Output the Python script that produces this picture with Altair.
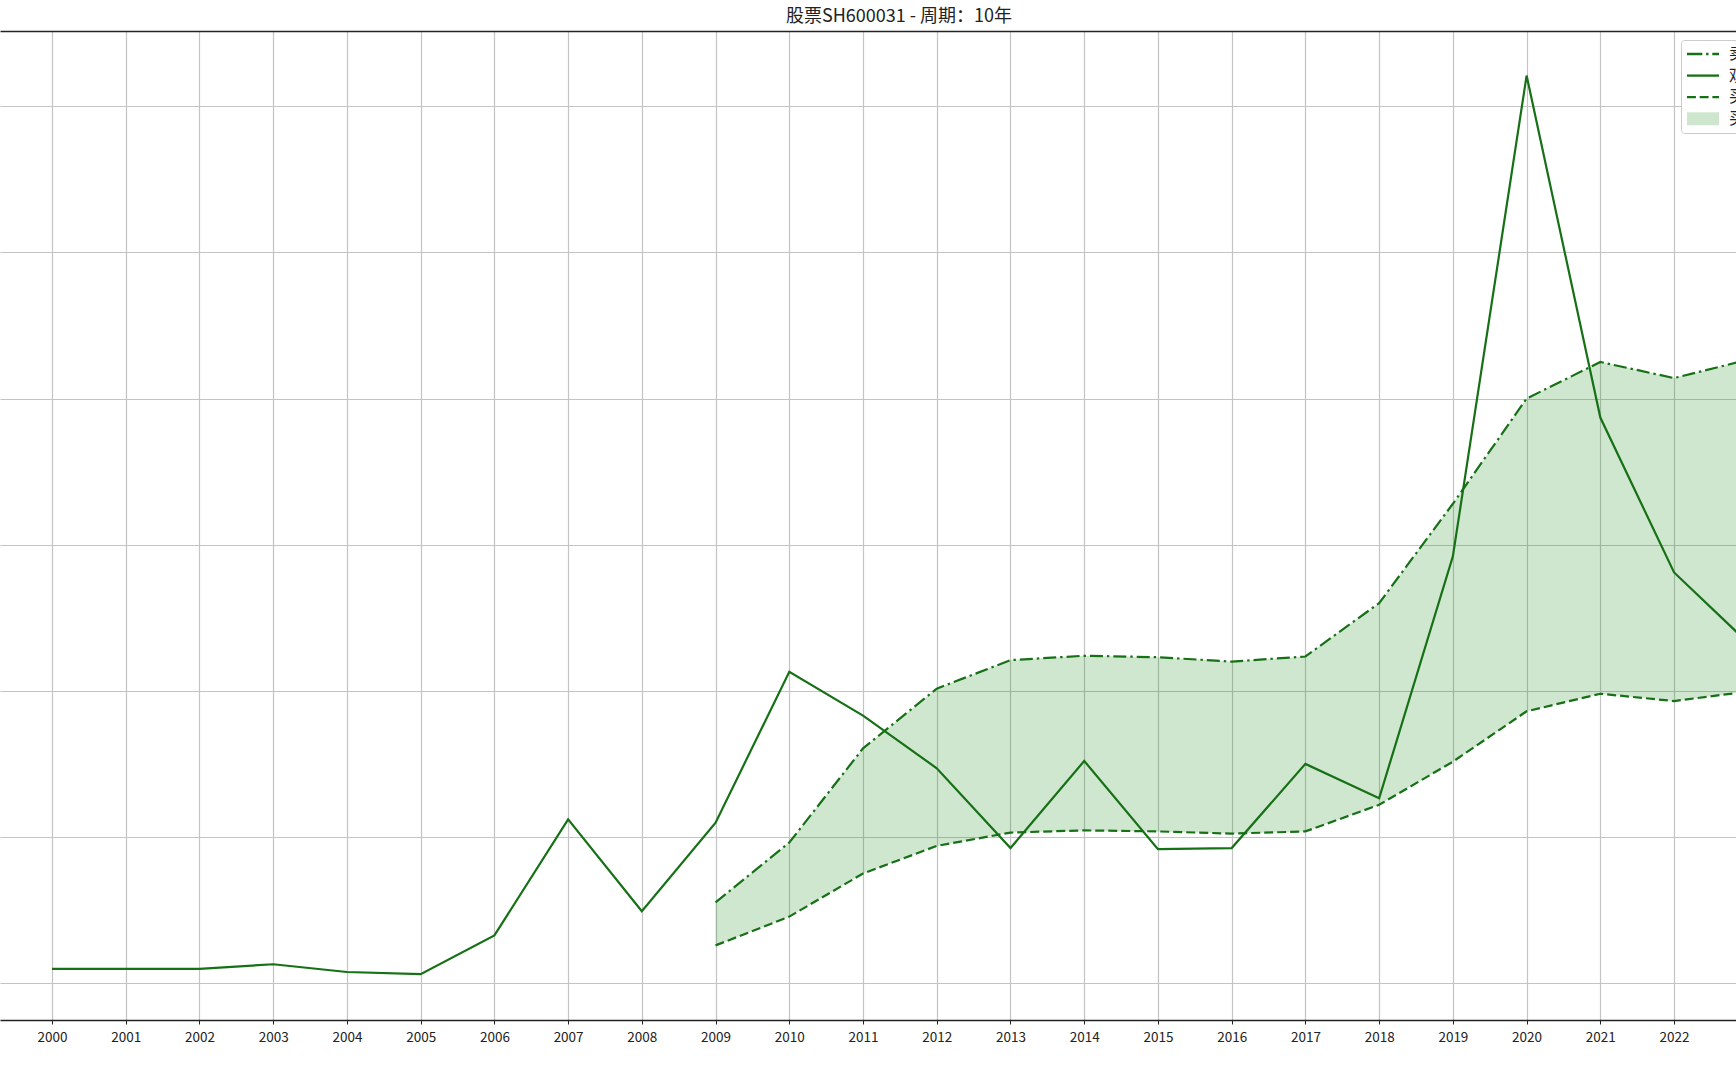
import altair as alt
import pandas as pd

# ---------------- data ----------------
years = list(range(2000, 2024))
actual = [0.98, 0.98, 0.98, 1.29, 0.76, 0.61, 3.26, 11.2, 4.92, 10.98, 21.3, 18.3,
          14.7, 9.24, 15.2, 9.17, 9.24, 15.0, 12.65, 29.2, 62.1, 38.7, 28.1, 23.3]
band_years = list(range(2009, 2024))
upper = [5.53, 9.62, 16.06, 20.15, 22.1, 22.4, 22.3, 22.0, 22.35, 26.0, 32.8,
         40.0, 42.5, 41.4, 42.65]
lower = [2.58, 4.55, 7.5, 9.39, 10.3, 10.45, 10.38, 10.23, 10.38, 12.2, 15.15,
         18.6, 19.8, 19.3, 19.95]
legend_labels = ["卖出线", "观测值", "买入线", "买卖区间"]
title_text = "股票SH600031 - 周期：10年"
x_ticks = years
y_grid = [0, 10, 20, 30, 40, 50, 60]

# ---------------- styles ----------------
FONT = "Noto Sans CJK SC"
LINE = "#167016"
FILL = "#008000"
FILL_SOLID = "#cde6cd"
GRID = "#c4c4c4"
DARK = "#222222"
DASHDOT = [13, 4, 2.4, 4]
DASHED = [9, 4]

X_DOMAIN = [1999.2947, 2022.84]
Y_DOMAIN = [-2.525, 65.15]

df_actual = pd.DataFrame({"year": years, "value": actual})
df_band = pd.DataFrame({"year": band_years, "upper": upper, "lower": lower})
df_legend = pd.DataFrame({"name": legend_labels})

xs = alt.Scale(domain=X_DOMAIN, nice=False, zero=False)
ys = alt.Scale(domain=Y_DOMAIN, nice=False, zero=False)


# legend symbol shapes (custom paths, 8 px per unit, 32 px wide)
def seg_path(pattern_px, half, total=32.0, unit=8.0):
    segs, pos, i, on = [], 0.0, 0, True
    while pos < total:
        L = pattern_px[i % len(pattern_px)]
        end = min(total, pos + L)
        if on:
            segs.append((pos, end))
        pos, on, i = end, not on, i + 1
    parts = []
    for a, b in segs:
        xa, xb = -2 + a / unit, -2 + b / unit
        parts.append(f"M{xa:.3f},{-half:.3f}L{xb:.3f},{-half:.3f}L{xb:.3f},{half:.3f}L{xa:.3f},{half:.3f}Z")
    return "".join(parts)


HALF = 2.3 / 2 / 8
shapes = [
    seg_path([15.3, 3.8, 2.4, 3.8], HALF),
    seg_path([32], HALF),
    seg_path([8.9, 3.8], HALF),
    "M-2,-0.81L2,-0.81L2,0.81L-2,0.81Z",
]

legend_common = dict(
    orient="none", legendX=1681, legendY=9, title=None,
    labelFont=FONT, labelFontSize=16, labelColor=DARK,
    fillColor="white", strokeColor="#cccccc", cornerRadius=3, padding=6,
    symbolSize=256, symbolOffset=8, symbolOpacity=1, symbolStrokeWidth=0,
    labelOffset=18, rowPadding=5.6,
)

x_axis_bottom = alt.Axis(
    values=x_ticks, format="d", grid=True, gridColor=GRID, gridWidth=1.2,
    tickColor=DARK, tickSize=4, tickWidth=1, domainColor=DARK, domainWidth=1.3,
    labelFont=FONT, labelFontSize=13.5, labelColor=DARK, labelPadding=6,
    labelFlush=False, labelOverlap=False, title=None, orient="bottom",
)
x_axis_top = alt.Axis(
    orient="top", labels=False, ticks=False, grid=False, domain=True,
    domainColor=DARK, domainWidth=1.3, title=None,
)
y_axis_grid = alt.Axis(
    values=y_grid, grid=True, gridColor=GRID, gridWidth=1.2, labels=False,
    ticks=False, domain=False, title=None, orient="left",
)

area = alt.Chart(df_band).mark_area(clip=True, color=FILL, fillOpacity=0.19).encode(
    x=alt.X("year:Q", scale=xs, axis=x_axis_bottom),
    y=alt.Y("upper:Q", scale=ys, axis=y_axis_grid),
    y2="lower:Q",
)

upper_line = alt.Chart(df_band).mark_line(
    clip=True, color=LINE, strokeWidth=2.2, strokeDash=DASHDOT
).encode(
    x=alt.X("year:Q", scale=xs, axis=None),
    y=alt.Y("upper:Q", scale=ys, axis=None),
)

lower_line = alt.Chart(df_band).mark_line(
    clip=True, color=LINE, strokeWidth=2.2, strokeDash=DASHED
).encode(
    x=alt.X("year:Q", scale=xs, axis=None),
    y=alt.Y("lower:Q", scale=ys, axis=None),
)

actual_line = alt.Chart(df_actual).mark_line(clip=True, color=LINE, strokeWidth=2.2).encode(
    x=alt.X("year:Q", scale=xs, axis=x_axis_top),
    y=alt.Y("value:Q", scale=ys, axis=None),
)

legend_layer = alt.Chart(df_legend).mark_point(filled=True, opacity=0).encode(
    color=alt.Color(
        "name:N",
        scale=alt.Scale(domain=legend_labels, range=[LINE, LINE, LINE, FILL_SOLID]),
        legend=alt.Legend(**legend_common),
    ),
    shape=alt.Shape(
        "name:N",
        scale=alt.Scale(domain=legend_labels, range=shapes),
        legend=alt.Legend(**legend_common),
    ),
)

chart = (
    alt.layer(area, upper_line, lower_line, actual_line, legend_layer)
    .resolve_axis(x="independent", y="independent")
    .properties(
        width=1736,
        height=989,
        padding={"left": 0, "top": 31, "right": 0, "bottom": 52},
        autosize=alt.AutoSizeParams(type="none"),
        background="white",
        title=alt.Title(
            title_text, font=FONT, fontSize=18, fontWeight="normal", color=DARK,
            anchor="middle", dx=31, offset=5,
        ),
    )
    .configure_view(stroke=None)
)

chart.save("out.html", embed_options={"renderer": "svg", "actions": False})
